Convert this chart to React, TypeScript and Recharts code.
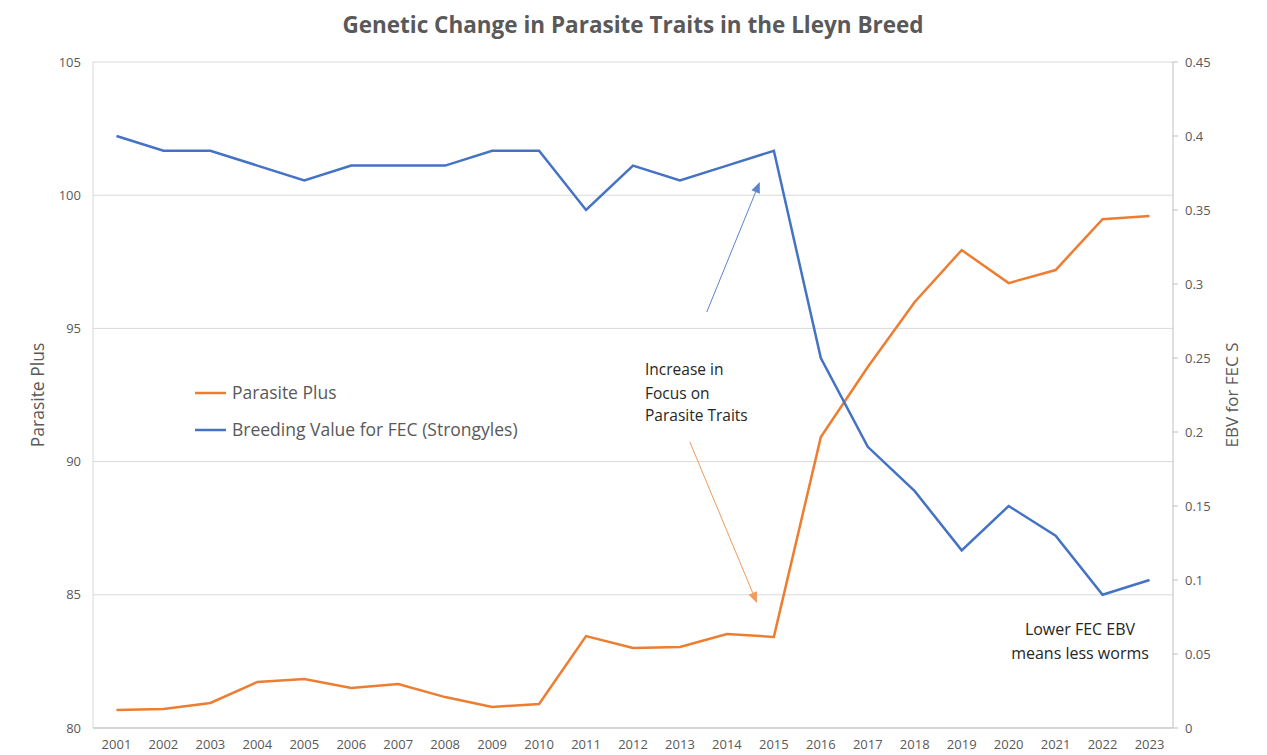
import React from 'react';
import { LineChart, Line, XAxis, YAxis, CartesianGrid, Legend, ReferenceLine, Customized, Label } from 'recharts';

const years = [2001, 2002, 2003, 2004, 2005, 2006, 2007, 2008, 2009, 2010, 2011, 2012, 2013, 2014, 2015, 2016, 2017, 2018, 2019, 2020, 2021, 2022, 2023];
const parasitePlus = [80.68, 80.71, 80.94, 81.73, 81.84, 81.5, 81.65, 81.16, 80.79, 80.9, 83.45, 83.0, 83.04, 83.53, 83.42, 90.92, 93.55, 95.99, 97.94, 96.7, 97.19, 99.1, 99.22];
const fecEbv = [0.4, 0.39, 0.39, 0.38, 0.37, 0.38, 0.38, 0.38, 0.39, 0.39, 0.35, 0.38, 0.37, 0.38, 0.39, 0.25, 0.19, 0.16, 0.12, 0.15, 0.13, 0.09, 0.1];
const leftTicks = [80, 85, 90, 95, 100, 105];
const rightTicks = [0, 0.05, 0.1, 0.15, 0.2, 0.25, 0.3, 0.35, 0.4, 0.45];

const data = years.map((y, i) => ({ year: y, pp: parasitePlus[i], fec: fecEbv[i] }));

const FONT = '"Open Sans", "Liberation Sans", sans-serif';
const ORANGE = '#ED7D31';
const BLUE = '#4472C4';
const GREY = '#595959';

const arrowShape = (color: string) => (props: any) => {
  const { x1, y1, x2, y2 } = props;
  if ([x1, y1, x2, y2].some((v) => typeof v !== 'number' || isNaN(v))) return <g />;
  const ang = Math.atan2(y2 - y1, x2 - x1);
  const L = 11;
  const W = 4.5;
  const bx = x2 - L * Math.cos(ang);
  const by = y2 - L * Math.sin(ang);
  const px = -Math.sin(ang) * W;
  const py = Math.cos(ang) * W;
  return (
    <g>
      <line x1={x1} y1={y1} x2={bx} y2={by} stroke={color} strokeWidth={1} />
      <polygon points={`${x2},${y2} ${bx + px},${by + py} ${bx - px},${by - py}`} fill={color} />
    </g>
  );
};

const Annotations = () => (
  <g fontFamily={FONT}>
    <text x={633} y={33} textAnchor="middle" fontSize={22.5} fontWeight={700} fill={GREY}>
      Genetic Change in Parasite Traits in the Lleyn Breed
    </text>
    <text fontSize={15.5} fill="#262626">
      <tspan x={645} y={375}>Increase in</tspan>
      <tspan x={645} y={399}>Focus on</tspan>
      <tspan x={645} y={421}>Parasite Traits</tspan>
    </text>
    <text fontSize={16} fill="#262626" textAnchor="middle">
      <tspan x={1080} y={635}>Lower FEC EBV</tspan>
      <tspan x={1080} y={659}>means less worms</tspan>
    </text>
  </g>
);

const LegendContent = () => {
  const items = [
    { name: 'Parasite Plus', color: ORANGE },
    { name: 'Breeding Value for FEC (Strongyles)', color: BLUE },
  ];
  return (
    <svg width={360} height={60} style={{ overflow: 'visible' }}>
      {items.map((it, i) => (
        <g key={it.name}>
          <line x1={0} x2={31} y1={12 + i * 37} y2={12 + i * 37} stroke={it.color} strokeWidth={2.5} />
          <text x={37} y={12 + i * 37} dy="0.35em" fontFamily={FONT} fontSize={17.5} fill={GREY}>
            {it.name}
          </text>
        </g>
      ))}
    </svg>
  );
};

export default function App() {
  return (
    <div style={{ position: 'absolute', left: 0, top: 0, width: 1267, height: 755, background: '#fff' }}>
      <LineChart width={1267} height={755} data={data} margin={{ top: 62, right: 34, bottom: 0, left: 33 }}>
        <CartesianGrid yAxisId="left" vertical={false} stroke="#d9d9d9" horizontalValues={leftTicks} />
        <XAxis
          dataKey="year"
          type="number"
          domain={[2000.5, 2023.5]}
          ticks={years}
          interval={0}
          height={27}
          tickLine={false}
          axisLine={{ stroke: '#bfbfbf' }}
          tick={{ fill: GREY, fontSize: 13, fontFamily: FONT }}
          tickMargin={6}
        />
        <YAxis
          yAxisId="left"
          domain={[80, 105]}
          ticks={leftTicks}
          interval={0}
          width={60}
          tickLine={false}
          axisLine={{ stroke: '#d9d9d9' }}
          tick={{ fill: GREY, fontSize: 13, fontFamily: FONT }}
          tickMargin={6}
        >
          <Label value="Parasite Plus" angle={-90} position="center" dx={-25} style={{ fill: GREY, fontSize: 17.5, fontFamily: FONT }} />
        </YAxis>
        <YAxis
          yAxisId="right"
          orientation="right"
          domain={[0, 0.45]}
          ticks={rightTicks}
          interval={0}
          width={60}
          tickSize={5}
          tickLine={{ stroke: '#bfbfbf' }}
          axisLine={{ stroke: '#bfbfbf' }}
          tick={{ fill: GREY, fontSize: 13, fontFamily: FONT }}
          tickMargin={7}
        >
          <Label value="EBV for FEC S" angle={-90} position="center" dx={29} style={{ fill: GREY, fontSize: 17, fontFamily: FONT }} />
        </YAxis>
        <Legend
          layout="vertical"
          align="center"
          verticalAlign="middle"
          wrapperStyle={{ left: 195, top: 381, width: 360, height: 60 }}
          content={<LegendContent />}
        />
        <Line yAxisId="left" dataKey="pp" name="Parasite Plus" stroke={ORANGE} strokeWidth={2.5} dot={false} isAnimationActive={false} />
        <Line yAxisId="right" dataKey="fec" name="Breeding Value for FEC (Strongyles)" stroke={BLUE} strokeWidth={2.5} dot={false} isAnimationActive={false} />
        <ReferenceLine
          yAxisId="right"
          segment={[{ x: 2013.57, y: 0.281 }, { x: 2014.7, y: 0.369 }]}
          shape={arrowShape('#5B84CC')}
        />
        <ReferenceLine
          yAxisId="left"
          segment={[{ x: 2013.21, y: 90.74 }, { x: 2014.64, y: 84.69 }]}
          shape={arrowShape('#F09A5E')}
        />
        <Customized component={<Annotations />} />
      </LineChart>
    </div>
  );
}
